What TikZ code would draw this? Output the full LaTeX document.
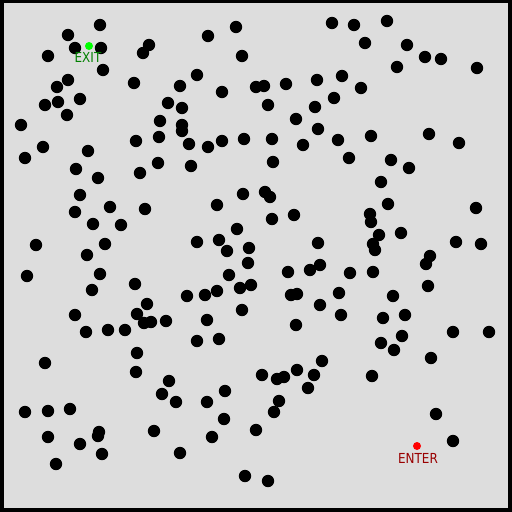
\documentclass[tikz,border=0pt]{standalone}
\usepackage{fontspec}
\setmainfont{DejaVu Sans}
\definecolor{bggray}{HTML}{DDDDDD}
\definecolor{exitgreen}{HTML}{008000}
\definecolor{exitdot}{HTML}{00FF00}
\definecolor{enterred}{HTML}{990000}
\definecolor{enterdot}{HTML}{FF0000}
\begin{document}
\begin{tikzpicture}[x=1pt,y=-1pt,
  obstacle/.style={fill=black},
  lbl/.style={inner sep=0pt,font=\fontsize{12}{12}\selectfont,yscale=1.15,transform shape}]
\useasboundingbox (0,0) rectangle (512,512);
\fill[black] (0,0) rectangle (512,512);
\fill[bggray] (4,3) rectangle (508,508);
\foreach \x/\y in {
100/25,68/35,75/48,101/48,48/56,149/45,143/53,103/70,134/83,68/80,57/87,80/99,58/102,45/105,168/103,67/115,21/125,160/121,159/137,136/141,43/147,25/158,88/151,158/163,76/169,140/173,98/178,180/86,
236/27,208/36,332/23,242/56,197/75,222/92,256/87,264/86,286/84,317/80,342/76,182/108,268/105,334/98,315/107,182/125,182/131,296/119,318/129,189/144,208/147,222/141,244/139,272/139,303/145,338/140,191/166,273/162,
354/25,387/21,365/43,407/45,425/57,441/59,397/67,477/68,361/88,371/136,429/134,459/143,349/158,391/160,409/168,
80/195,75/212,110/207,145/209,93/224,121/225,36/245,105/244,87/255,27/276,100/274,92/290,135/284,147/304,75/315,137/314,144/323,151/322,166/321,86/332,108/330,125/330,
243/194,265/192,270/197,217/205,272/219,294/215,237/229,197/242,219/240,227/251,249/248,318/243,248/263,288/272,310/270,320/265,229/275,240/288,251/285,187/296,205/295,217/291,291/295,297/294,339/293,320/305,242/310,207/320,296/325,341/315,197/341,219/339,
381/182,388/204,370/214,371/222,379/235,401/233,476/208,373/244,375/250,456/242,481/244,430/256,426/264,350/273,373/272,428/286,393/296,383/318,405/315,453/332,489/332,402/336,381/343,
137/353,45/363,136/372,169/381,162/394,176/402,25/412,48/411,70/409,154/431,48/437,80/444,99/432,98/436,102/454,56/464,180/453,
322/361,262/375,277/379,284/377,297/370,314/375,308/388,225/391,207/402,279/401,274/412,224/419,256/430,212/437,245/476,268/481,
394/350,431/358,372/376,436/414,453/441}
  \fill[obstacle] (\x,\y) circle (6.2);
\fill[exitdot] (89,46) circle (4);
\node[lbl,text=exitgreen] (exit) at (88,57) {EXIT};
\fill[enterdot] (417,446) circle (4);
\node[lbl,text=enterred] (enter) at (418,458) {ENTER};
\end{tikzpicture}
\end{document}
